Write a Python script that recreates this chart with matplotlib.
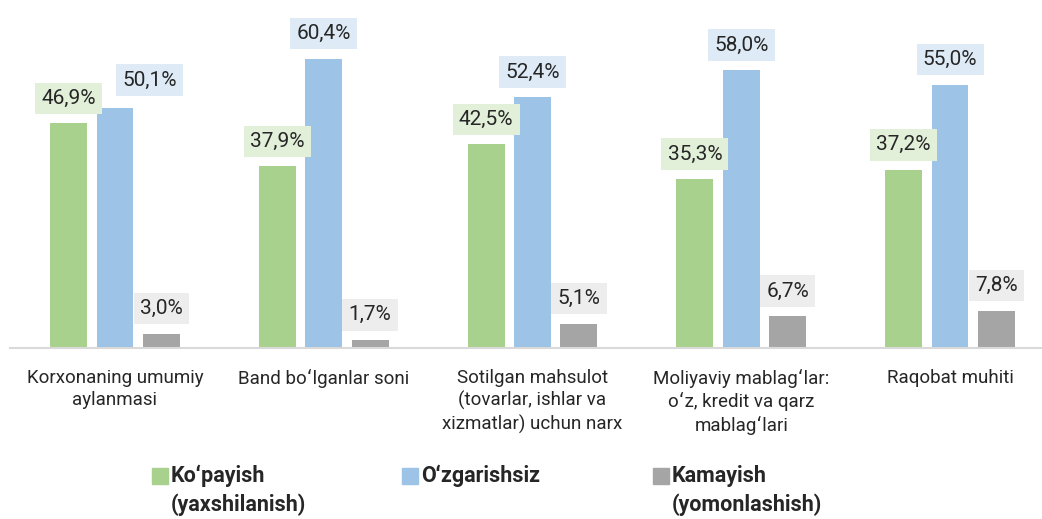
import matplotlib
matplotlib.use("Agg")
import matplotlib.pyplot as plt
import numpy as np
from matplotlib.patches import Rectangle

plt.rcParams['font.family'] = ['Roboto', 'DejaVu Sans']

categories = [
    "Korxonaning umumiy\naylanmasi",
    "Band boʻlganlar soni",
    "Sotilgan mahsulot\n(tovarlar, ishlar va\nxizmatlar) uchun narx",
    "Moliyaviy mablagʻlar:\noʻz, kredit va qarz\nmablagʻlari",
    "Raqobat muhiti",
]
kopayish = [46.9, 37.9, 42.5, 35.3, 37.2]
ozgarishsiz = [50.1, 60.4, 52.4, 58.0, 55.0]
kamayish = [3.0, 1.7, 5.1, 6.7, 7.8]
series_names = ["Koʻpayish\n(yaxshilanish)", "Oʻzgarishsiz", "Kamayish\n(yomonlashish)"]

colors = ["#a9d18e", "#9dc3e6", "#a5a5a5"]
box_colors = ["#e2efd9", "#deebf7", "#ededed"]
text_color = "#262626"

W, H = 1042, 519
fig = plt.figure(figsize=(W / 100, H / 100), dpi=100)
ax = fig.add_axes([10 / W, (H - 348) / H, 1 - 10 / W, 306.6 / H])

x = np.arange(len(categories))
width = 0.177
offset = 0.222
series = [kopayish, ozgarishsiz, kamayish]
for i, (vals, c, bc) in enumerate(zip(series, colors, box_colors)):
    pos = x + (i - 1) * offset
    ax.bar(pos, vals, width=width, color=c, zorder=2)
    for j, (p, v) in enumerate(zip(pos, vals)):
        dx = 25 if (i == 1 and j == 0) else 0
        dy = 20 if (i == 1 and j == 0) else 18
        ax.annotate(f"{v:.1f}%".replace(".", ","), xy=(p, v), xytext=(dx, dy),
                    textcoords="offset points", ha="center", va="center",
                    fontsize=15, color=text_color, annotation_clip=False,
                    bbox=dict(boxstyle="square,pad=0.3", fc=bc, ec="none"))

ax.set_xlim((10 - 115) / 208.75, (1042 - 115) / 208.75)
ax.set_ylim(0, 64)
ax.set_xticks(x)
ax.set_xticklabels(categories, fontsize=13.5, color=text_color, linespacing=1.3)
ax.tick_params(axis="x", length=0, pad=15)
ax.set_yticks([])
for s in ["top", "left", "right"]:
    ax.spines[s].set_visible(False)
ax.spines["bottom"].set_color("#d9d9d9")
ax.spines["bottom"].set_linewidth(1.5)

# legend
leg_x = [152, 402, 653]
for lx, c, name in zip(leg_x, colors, series_names):
    fig.patches.append(Rectangle((lx / W, (H - 484) / H), 16 / W, 16 / H,
                                 transform=fig.transFigure, color=c))
    fig.text((lx + 19) / W, (H - 465) / H, name, ha="left", va="top",
             fontsize=15.5, fontweight="bold", color=text_color, linespacing=1.35)

fig.savefig("out.png", dpi=100, facecolor="white")
